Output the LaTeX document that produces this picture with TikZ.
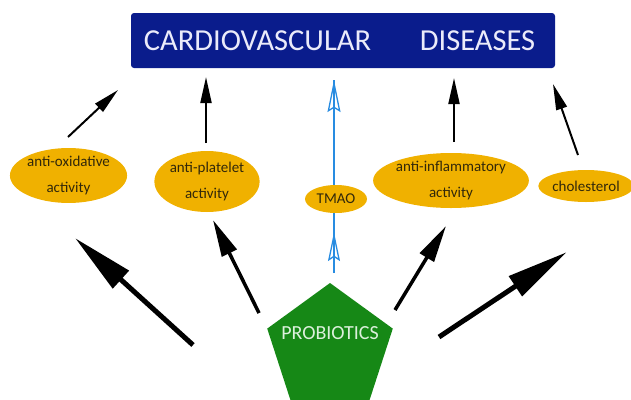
\documentclass[tikz,border=0pt]{standalone}
\usepackage{fontspec}
\setmainfont{Carlito}
\usetikzlibrary{shapes.geometric,arrows.meta,decorations.markings}
\definecolor{cvdblue}{RGB}{10,28,140}
\definecolor{ellyellow}{RGB}{240,177,0}
\definecolor{probgreen}{RGB}{22,136,22}
\definecolor{tmaoblue}{RGB}{40,140,225}
\definecolor{elltext}{RGB}{50,40,10}
\definecolor{cvdtext}{RGB}{235,235,250}
\definecolor{probtext}{RGB}{220,240,220}
\pgfdeclarelayer{bg}
\pgfsetlayers{bg,main}
\begin{document}
\begin{tikzpicture}[x=1pt,y=-1pt,
  ell/.style={ellipse, fill=ellyellow, inner sep=0pt, text=elltext,
    font=\fontsize{15}{26}\selectfont, align=center},
  cvdword/.style={text=cvdtext, inner sep=0pt, font=\fontsize{30.5}{36}\selectfont},
  thinarrow/.style={line width=2pt, -{Triangle[length=26pt,width=11pt]}},
  midarrow/.style={line width=3.5pt, -{Triangle[length=37pt,width=16pt]}},
  bigarrow/.style={line width=5pt, -{Triangle[length=62pt,width=23pt]}},
  tmaohead/.style={tmaoblue, line width=1.3pt},
]
\useasboundingbox (0,0) rectangle (631,399);

% title box
\node[fill=cvdblue, rounded corners=3pt, minimum width=424pt, minimum height=55pt, inner sep=0pt] (cvd) at (343,40.5) {};
\node[cvdword] (cvdA) at (257.5,41) {CARDIOVASCULAR};
\node[cvdword] (cvdB) at (477.5,41) {DISEASES};

% ellipses
\node[ell, minimum width=111pt, minimum height=53pt] (ao) at (68.5,175.5) {anti-oxidative\\activity};
\node[ell, minimum width=96pt, minimum height=61pt] (ap) at (207,181.5) {anti-platelet\\activity};
\node[ell, minimum width=62pt, minimum height=28pt] (tm) at (336,199) {TMAO};
\node[ell, minimum width=138pt, minimum height=55pt] (ai) at (451,180.5) {anti-inflammatory\\activity};
\node[ell, minimum width=90pt, minimum height=32pt] (ch) at (586,186) {cholesterol};

% pentagon
\node[regular polygon, regular polygon sides=5, fill=probgreen, minimum size=132pt, inner sep=0pt] (prob) at (330,349) {};
\node[text=probtext, inner sep=0pt, font=\fontsize{20}{24}\selectfont] (probtxt) at (330,333) {PROBIOTICS};

% coordinates for connector ends
\coordinate (t1s) at (68,137);  \coordinate (t1e) at (118,90);
\coordinate (t2s) at (206,143); \coordinate (t2e) at (206,77);
\coordinate (t4s) at (454,142); \coordinate (t4e) at (454,78);
\coordinate (t5s) at (578,155); \coordinate (t5e) at (553,84);
\coordinate (b1s) at (193,345); \coordinate (b1e) at (75,238);
\coordinate (b2s) at (259,313); \coordinate (b2e) at (213,220);
\coordinate (b3s) at (395,310); \coordinate (b3e) at (446,226);
\coordinate (b4s) at (439,337); \coordinate (b4e) at (567,252);
\coordinate (tms) at (334,273); \coordinate (tme) at (334,80);

% blue TMAO line behind the ellipse
\begin{pgfonlayer}{bg}
\draw[tmaoblue, line width=1.5pt,
  postaction={decorate, decoration={markings,
    mark=at position 0.212 with {\arrow[tmaohead]{Stealth[open,length=29pt,width=12pt,inset=4pt]}},
    mark=at position 1 with {\arrow[tmaohead]{Stealth[open,length=32pt,width=13pt,inset=4pt]}}}}]
  (tms) -- (tme);
\end{pgfonlayer}

% top arrows
\draw[thinarrow] (t1s) -- (t1e);
\draw[thinarrow] (t2s) -- (t2e);
\draw[thinarrow] (t4s) -- (t4e);
\draw[thinarrow] (t5s) -- (t5e);

% bottom arrows
\draw[bigarrow] (b1s) -- (b1e);
\draw[midarrow] (b2s) -- (b2e);
\draw[midarrow] (b3s) -- (b3e);
\draw[bigarrow] (b4s) -- (b4e);
\end{tikzpicture}
\end{document}
